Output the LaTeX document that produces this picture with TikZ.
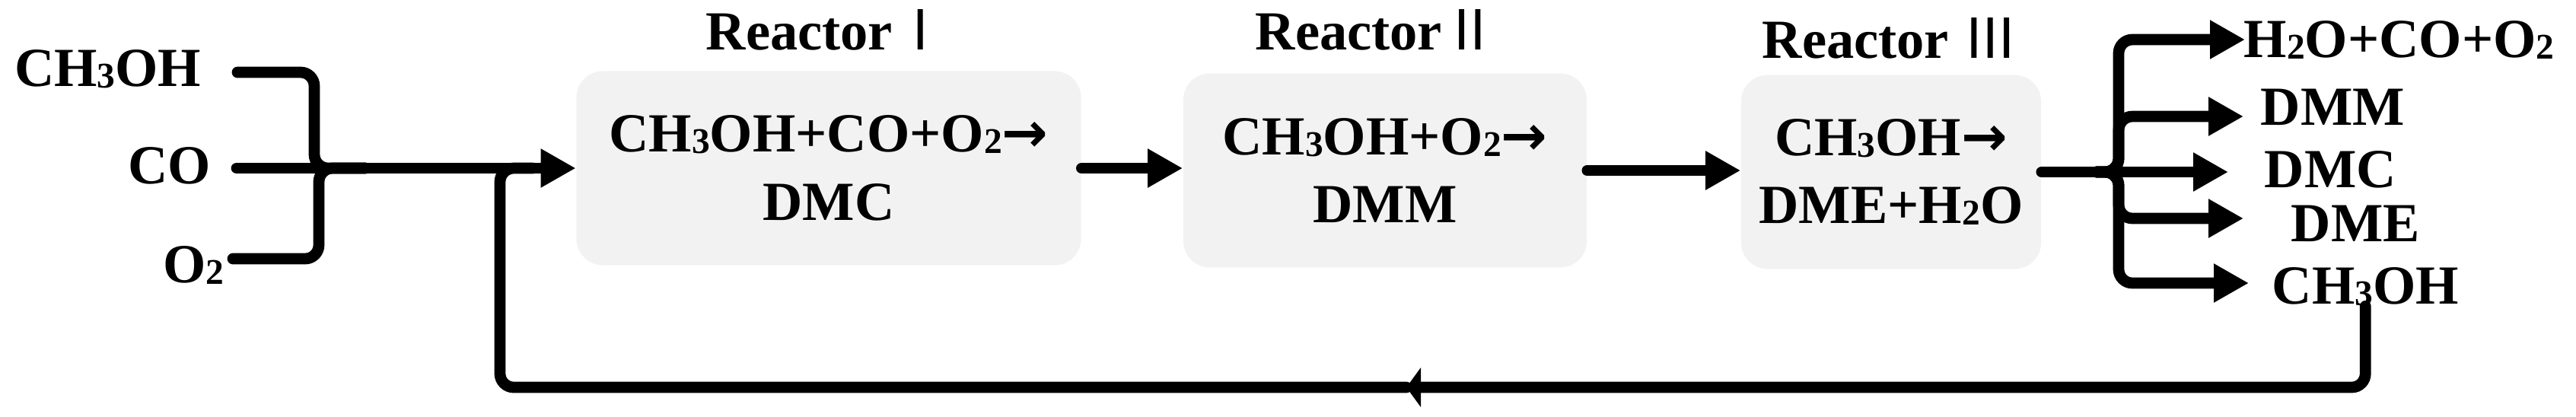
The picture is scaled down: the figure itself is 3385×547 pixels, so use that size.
\documentclass[tikz,border=0pt]{standalone}
\usepackage{fontspec}
\setmainfont{Liberation Serif}
\newfontfamily\cjk{Noto Sans CJK SC}
\newfontfamily\arrowfont{DejaVu Sans}
\usetikzlibrary{arrows.meta}
\definecolor{boxgray}{HTML}{F2F2F2}
\newcommand{\rxnarrow}{{\arrowfont →}}
\newcommand{\chemsub}[1]{\raisebox{-0.03em}{\fontsize{13.5}{13.5}\selectfont #1}}
\newcommand{\romannum}[1]{{\cjk\mdseries #1}}

\begin{document}
\begin{tikzpicture}[x=0.01cm, y=0.01cm,
        every node/.style={inner sep=0pt, font=\fontsize{20.6}{25.5}\selectfont\bfseries},
        pipe/.style={line width=4.2pt, line cap=round, rounded corners=0.18cm},
        head/.style={-{Triangle[length=0.46cm, width=0.48cm]}},
        reactorbox/.style={fill=boxgray, rounded corners=0.35cm, align=center,
            minimum height=2.55cm, minimum width=#1}]
        \useasboundingbox (0,0) rectangle (3385,-547);
        % feed streams
        \node[anchor=base east] (in1) at (265,-113) {CH\chemsub{3}OH};
        \node[anchor=base east] (in2) at (278,-241) {CO};
        \node[anchor=base east] (in3) at (295,-371) {O\chemsub{2}};
        \coordinate (s1) at (312,-95);
        \coordinate (s2) at (311,-221);
        \coordinate (s3) at (306,-340);
        \coordinate (mix) at (480,-221);
        \coordinate (feed) at (700,-221);
        % reactors
        \node[reactorbox=6.63cm] (r1) at (1089,-221) {CH\chemsub{3}OH+CO+O\chemsub{2}\rxnarrow\\DMC};
        \node[reactorbox=5.30cm] (r2) at (1820,-224) {CH\chemsub{3}OH+O\chemsub{2}\rxnarrow\\DMM};
        \node[reactorbox=3.94cm] (r3) at (2485,-226) {CH\chemsub{3}OH\rxnarrow\\DME+H\chemsub{2}O};
        \node[anchor=base west] (n1) at (927,-65) {Reactor\romannum{Ⅰ}};
        \node[anchor=base west] (n2) at (1649,-65) {Reactor\romannum{Ⅱ}};
        \node[anchor=base west] (n3) at (2315,-76) {Reactor \romannum{Ⅲ}};
        % products
        \node[anchor=base west] (out1) at (2948,-75) {H\chemsub{2}O+CO+O\chemsub{2}};
        \node[anchor=base west] (out2) at (2970,-164) {DMM};
        \node[anchor=base west] (out3) at (2975,-246) {DMC};
        \node[anchor=base west] (out4) at (3010,-317) {DME};
        \node[anchor=base west] (out5) at (2985,-399) {CH\chemsub{3}OH};
        \coordinate (split) at (2755,-226);
        \coordinate (t1) at (2950,-52);
        \coordinate (t2) at (2948,-153);
        \coordinate (t3) at (2928,-226);
        \coordinate (t4) at (2948,-287);
        \coordinate (t5) at (2955,-372);
        \coordinate (back) at (1848,-509);
        % mixing
        \draw[pipe] (s1) -| (413,-221) -- (mix);
        \draw[pipe] (s3) -| (419,-221) -- (mix);
        \draw[pipe, head] (s2) -- (r1.west);
        % reactor train
        \draw[pipe, head] (r1.east) -- (r2.west |- r1.east);
        \draw[pipe, head] (r2.east) -- (r3.west |- r2.east);
        \draw[pipe, head] (r3.east) -- (t3);
        % separation
        \draw[pipe, head] (split) -| (2784,-52) -- (t1);
        \draw[pipe, head] (split) -| (2784,-153) -- (t2);
        \draw[pipe, head] (split) -| (2784,-287) -- (t4);
        \draw[pipe, head] (split) -| (2784,-372) -- (t5);
        % recycle
        \draw[pipe, -{Triangle[length=0.19cm, width=0.51cm]}] (out5.south) |- (back);
        \draw[pipe] (back) -| (657,-221) -- (feed);
\end{tikzpicture}
\end{document}
